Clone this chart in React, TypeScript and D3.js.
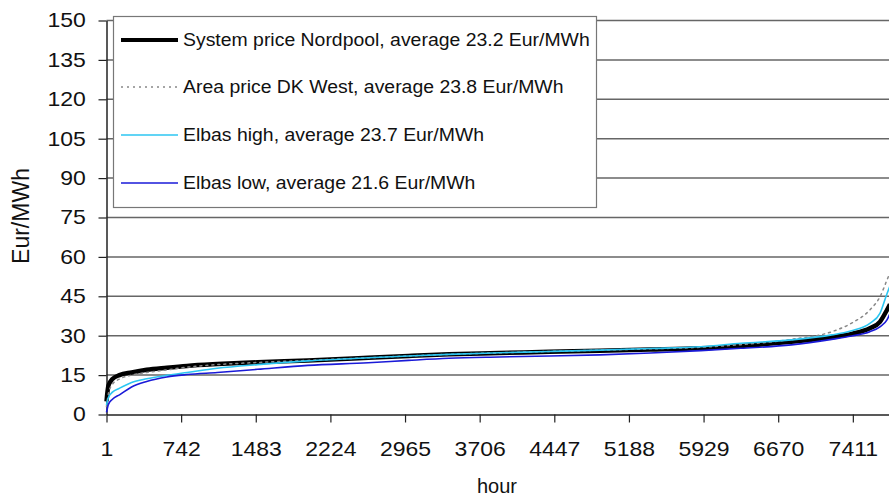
import { useEffect, useRef } from "react";
import * as d3 from "d3";

// price duration curves, hours sorted by price
const hours = [1, 20, 60, 130, 250, 400, 600, 800, 1100, 1500, 2000, 2600, 3000, 3400, 3900, 4400, 4900, 5400, 5900, 6300, 6800, 7200, 7400, 7580, 7680, 7750, 7780];
const systemPrice = [5, 11, 13.5, 15, 16, 17, 17.8, 18.5, 19.2, 19.9, 20.6, 21.6, 22.3, 22.9, 23.4, 23.9, 24.3, 24.7, 25.2, 26.1, 27.7, 29.4, 30.7, 32.8, 35.3, 39.8, 42];
const areaPriceDK = [3, 8, 11.5, 13.5, 15, 16, 17, 18, 19, 19.8, 20.6, 21.6, 22.3, 22.9, 23.5, 24, 24.5, 25, 25.6, 26.6, 28.6, 31.5, 34.8, 39.8, 44.8, 51.2, 54];
const elbasHigh = [3.6, 6.5, 8.5, 10, 12.2, 13.6, 14.9, 16, 17.6, 19, 20.4, 21.6, 22.3, 22.9, 23.5, 24, 24.5, 25.1, 25.8, 27.1, 28.4, 30.3, 31.9, 34.7, 38.5, 46, 49];
const elbasLow = [0.8, 3.8, 5.8, 7.5, 10.5, 12.6, 14.3, 15.2, 16, 17.2, 18.7, 19.7, 20.6, 21.4, 21.9, 22.3, 22.7, 23.4, 24.3, 25.2, 26.5, 28.6, 29.9, 31.5, 33.4, 36, 38.5];

const seriesNames = [
  "System price Nordpool, average 23.2 Eur/MWh",
  "Area price DK West, average 23.8 Eur/MWh",
  "Elbas high, average 23.7 Eur/MWh",
  "Elbas low, average 21.6 Eur/MWh",
];
const xTicks = [1, 742, 1483, 2224, 2965, 3706, 4447, 5188, 5929, 6670, 7411];
const yTicks = [0, 15, 30, 45, 60, 75, 90, 105, 120, 135, 150];

const W = 889;
const H = 499;
const font = "'Liberation Sans', Arial, sans-serif";

const App = () => {
  const svgRef = useRef<SVGSVGElement>(null);

  useEffect(() => {
    const svg = d3.select(svgRef.current);
    svg.selectAll("*").remove();

    const left = 106.5;
    const top = 20.5;
    const bottom = 414.5;

    const x = d3.scaleLinear().domain([1, 7780]).range([left, 890]);
    const y = d3.scaleLinear().domain([0, 150]).range([bottom, top]);

    // gridlines
    svg.append("g")
      .selectAll("line")
      .data(yTicks.filter(d => d > 0))
      .join("line")
      .attr("x1", left)
      .attr("x2", W)
      .attr("y1", d => y(d))
      .attr("y2", d => y(d))
      .attr("stroke", "#666")
      .attr("stroke-width", 1.5);

    // y axis
    const yAxis = d3.axisLeft(y).tickValues(yTicks).tickSize(8).tickSizeOuter(0).tickPadding(10);
    const gy = svg.append("g").attr("transform", `translate(${left},0)`).call(yAxis);
    gy.select(".domain").attr("stroke", "#222").attr("stroke-width", 1.5);
    gy.selectAll(".tick line").attr("stroke", "#222").attr("stroke-width", 1.2);
    gy.selectAll(".tick text")
      .attr("font-size", 20).attr("font-family", font).attr("fill", "#111")
      .attr("transform", "scale(1.15,1)");

    // x axis
    const xAxis = d3.axisBottom(x).tickValues(xTicks).tickFormat(d3.format("d")).tickSize(8).tickSizeOuter(0).tickPadding(19);
    const gx = svg.append("g").attr("transform", `translate(0,${bottom})`).call(xAxis);
    gx.select(".domain").attr("stroke", "#222").attr("stroke-width", 1.5);
    gx.selectAll(".tick line").attr("stroke", "#222").attr("stroke-width", 1.2);
    gx.selectAll(".tick text")
      .attr("font-size", 20).attr("font-family", font).attr("fill", "#111")
      .attr("transform", "scale(1.15,1)");

    // axis titles
    svg.append("text")
      .attr("transform", `translate(29,216) rotate(-90)`)
      .attr("text-anchor", "middle")
      .attr("font-size", 23)
      .attr("font-family", font)
      .attr("fill", "#111")
      .text("Eur/MWh");
    svg.append("text")
      .attr("x", 497)
      .attr("y", 493)
      .attr("text-anchor", "middle")
      .attr("font-size", 20)
      .attr("font-family", font)
      .attr("fill", "#111")
      .text("hour");

    const styles = [
      { vals: systemPrice, color: "#000", width: 4.5, dash: null },
      { vals: areaPriceDK, color: "#888", width: 1.5, dash: "2,4" },
      { vals: elbasHigh, color: "#2cc6f2", width: 1.6, dash: null },
      { vals: elbasLow, color: "#1a1ad8", width: 1.6, dash: null },
    ];

    const line = d3.line<number>()
      .x((_, i) => x(hours[i]))
      .y(d => y(d))
      .curve(d3.curveMonotoneX);

    const plot = svg.append("g");
    plot.selectAll("path")
      .data(styles)
      .join("path")
      .attr("d", d => line(d.vals))
      .attr("fill", "none")
      .attr("stroke", d => d.color)
      .attr("stroke-width", d => d.width)
      .attr("stroke-dasharray", d => d.dash)
      .attr("stroke-linecap", d => (d.dash ? "round" : "butt"));

    // legend
    const lg = svg.append("g");
    lg.append("rect")
      .attr("x", 113.5)
      .attr("y", 16.5)
      .attr("width", 483)
      .attr("height", 191)
      .attr("fill", "#fff")
      .attr("stroke", "#777")
      .attr("stroke-width", 1.2);
    const rowY = [40, 87, 135, 183];
    const rows = lg.selectAll("g.row")
      .data(styles)
      .join("g")
      .attr("class", "row")
      .attr("transform", (_, i) => `translate(0,${rowY[i]})`);
    rows.append("line")
      .attr("x1", 121)
      .attr("x2", 178)
      .attr("stroke", d => d.color)
      .attr("stroke-width", d => (d.width > 2 ? 4 : 1.6))
      .attr("stroke-dasharray", d => d.dash);
    rows.append("text")
      .attr("transform", "translate(183,0) scale(1.05,1)")
      .attr("dy", "0.35em")
      .attr("font-size", 18.5)
      .attr("font-family", font)
      .attr("fill", "#111")
      .text((_, i) => seriesNames[i]);
  }, []);

  return (
    <svg ref={svgRef} width={W} height={H} style={{ position: "absolute", left: 0, top: 0, background: "#fff" }} />
  );
};

export default App;
